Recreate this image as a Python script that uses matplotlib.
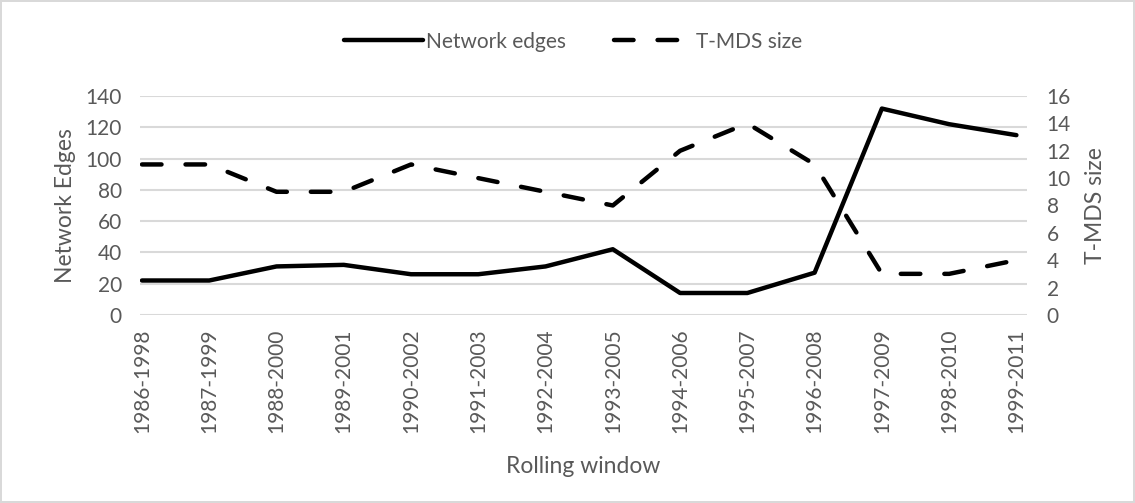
import matplotlib.pyplot as plt

plt.rcParams['font.family'] = ['Lato', 'DejaVu Sans']

# rolling windows and the two series plotted against them
windows = ['1986-1998', '1987-1999', '1988-2000', '1989-2001', '1990-2002',
           '1991-2003', '1992-2004', '1993-2005', '1994-2006', '1995-2007',
           '1996-2008', '1997-2009', '1998-2010', '1999-2011']
network_edges = [22, 22, 31, 32, 26, 26, 31, 42, 14, 14, 27, 132, 122, 115]
tmds_size = [11, 11, 9, 9, 11, 10, 9, 8, 12, 14, 11, 3, 3, 4]

left_ticks = [0, 20, 40, 60, 80, 100, 120, 140]
right_ticks = [0, 2, 4, 6, 8, 10, 12, 14, 16]

grey = '#595959'
grid_grey = '#d9d9d9'

fig = plt.figure(figsize=(11.35, 5.03), dpi=100)
fig.patch.set_edgecolor(grid_grey)
fig.patch.set_linewidth(1.5)

ax = fig.add_axes([0.1233, 0.374, 0.7817, 0.435])
ax2 = ax.twinx()

x = range(len(windows))
line1, = ax.plot(x, network_edges, color='black', lw=3.2,
                 solid_joinstyle='round', solid_capstyle='round',
                 label='Network edges', zorder=3)
line2, = ax2.plot(x, tmds_size, color='black', lw=3.2, dashes=(4.4, 5.4),
                  dash_capstyle='round', dash_joinstyle='round',
                  label='T-MDS size', zorder=3)

ax.set_xlim(-0.03, 13.16)
ax.set_ylim(0, 140)
ax2.set_ylim(0, 16)
ax.set_yticks(left_ticks)
ax2.set_yticks(right_ticks)
ax.set_xticks(list(x))
ax.set_xticklabels(windows, rotation=90)

ax.grid(axis='y', color=grid_grey, lw=1.5)
ax.set_axisbelow(True)
for a in (ax, ax2):
    for s in a.spines.values():
        s.set_visible(False)
    a.tick_params(length=0, labelsize=15, colors=grey)
ax.tick_params(axis='x', pad=10)
ax.tick_params(axis='y', pad=13)
ax2.tick_params(axis='y', pad=14)

ax.set_ylabel('Network Edges', fontsize=16.5, color=grey, labelpad=7)
ax2.set_ylabel('T-MDS size', fontsize=16.5, color=grey, labelpad=10)
ax.set_xlabel('Rolling window', fontsize=16.5, color=grey, labelpad=16)

fig.legend(handles=[line1, line2], loc='center', bbox_to_anchor=(0.505, 0.917),
           ncol=2, frameon=False, fontsize=15, labelcolor=grey,
           handlelength=3.8, handletextpad=0.15, columnspacing=2.3)

fig.savefig('out.png', dpi=100)
